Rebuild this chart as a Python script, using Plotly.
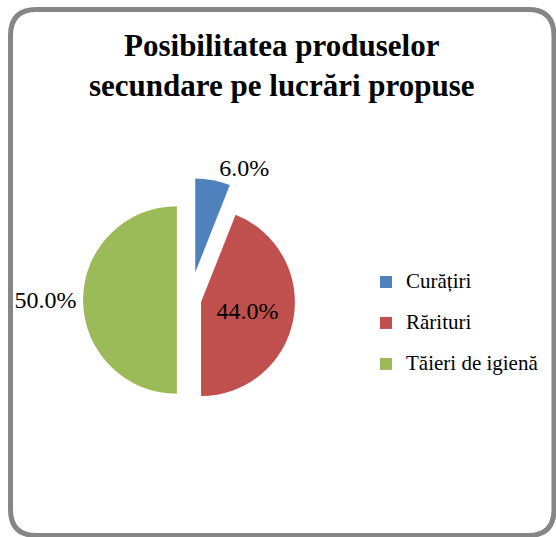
import plotly.graph_objects as go

labels = ["Curățiri", "Rărituri", "Tăieri de igienă"]
values = [6.0, 44.0, 50.0]
colors = ["#4F81BD", "#C0504D", "#9BBB59"]
pulls = [0.3, 0.12, 0.14]
text_positions = ["outside", "inside", "outside"]

W, H = 556, 537
FONT = "Liberation Serif"

# legend entries: visible text at 21px, taller rows (Excel-like spacing)
legend_labels = [f'<span style="font-size:21px">{t}</span><br> ' for t in labels]

fig = go.Figure()
cx, cy, r = 190, 300, 122
fig.add_trace(go.Pie(
    labels=legend_labels,
    values=values,
    sort=False,
    direction="clockwise",
    rotation=0,
    pull=pulls,
    marker=dict(colors=colors, line=dict(width=0)),
    texttemplate="%{percent:.1%}",
    textposition=text_positions,
    textfont=dict(family=FONT, size=24, color="black"),
    insidetextorientation="horizontal",
    domain=dict(x=[(cx - r) / W, (cx + r) / W], y=[1 - (cy + r) / H, 1 - (cy - r) / H]),
    showlegend=True,
    hoverinfo="skip",
))

# rounded border
x0, x1 = 10.5 / W, 554 / W
y0, y1 = 1 - 535.5 / H, 1 - 9.5 / H
rx, ry = 26 / W, 26 / H
path = (f"M {x0+rx},{y1} L {x1-rx},{y1} Q {x1},{y1} {x1},{y1-ry} "
        f"L {x1},{y0+ry} Q {x1},{y0} {x1-rx},{y0} L {x0+rx},{y0} "
        f"Q {x0},{y0} {x0},{y0+ry} L {x0},{y1-ry} Q {x0},{y1} {x0+rx},{y1} Z")
fig.add_shape(type="path", path=path, xref="paper", yref="paper",
              line=dict(color="#868686", width=5), fillcolor="rgba(0,0,0,0)")

fig.add_annotation(
    text="<b>Posibilitatea produselor<br>secundare pe lucrări propuse</b>",
    x=282 / W, y=1 - 26 / H, xref="paper", yref="paper",
    xanchor="center", yanchor="top", showarrow=False,
    font=dict(family=FONT, size=31, color="black"),
)

fig.update_layout(
    width=W, height=H,
    margin=dict(l=0, r=0, t=0, b=0, autoexpand=False),
    paper_bgcolor="white",
    plot_bgcolor="white",
    legend=dict(
        x=366 / W, y=1 - 266 / H, xanchor="left", yanchor="top",
        font=dict(family=FONT, size=14.6, color="black"),
        bgcolor="rgba(0,0,0,0)",
        valign="top",
        itemwidth=30,
    ),
)

fig.write_html("out.html", config={"displayModeBar": False},
               post_script="document.body.style.margin='0';")
